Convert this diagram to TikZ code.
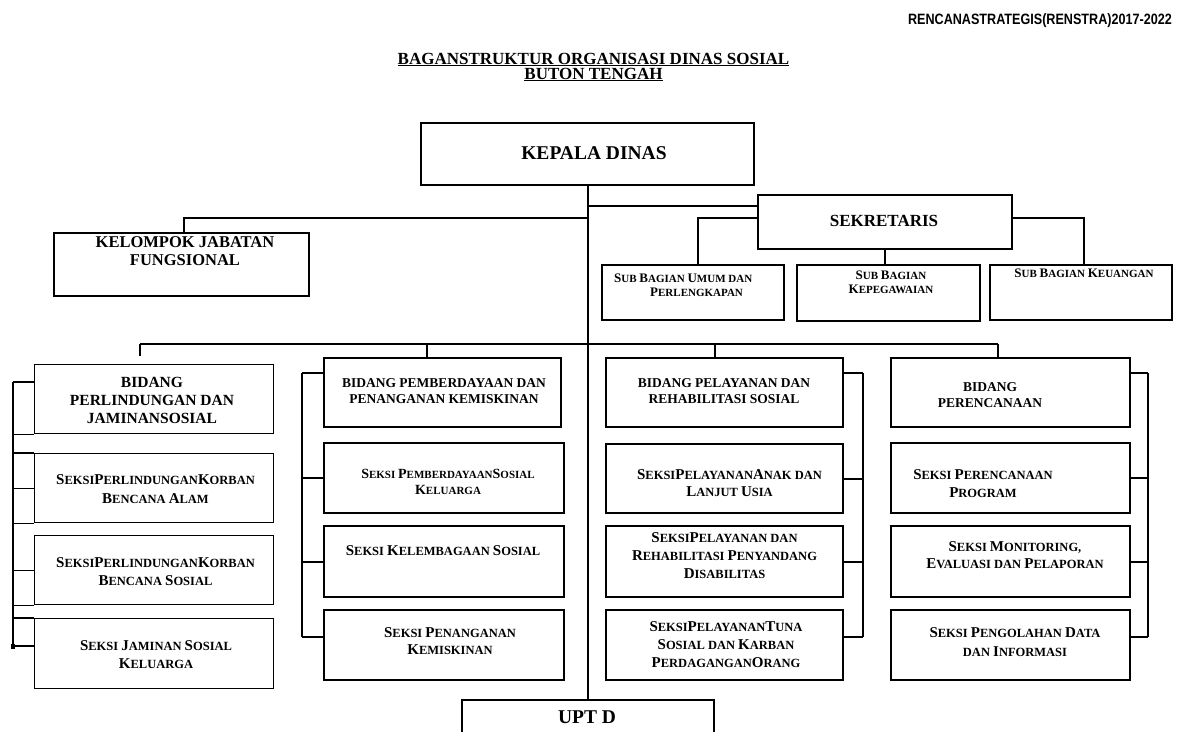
\documentclass[tikz,border=0pt]{standalone}
\usepackage{fontspec}
\setmainfont{Liberation Serif}
\newfontfamily\hdrfont{Liberation Sans}
\usetikzlibrary{calc}
\def\bigsz{15}
\newcommand\K[1]{{\fontsize{\bigsz}{\bigsz}\selectfont #1}}
\begin{document}
\begin{tikzpicture}[x=1pt,y=-1pt,
  box/.style={draw, line width=2pt, inner sep=0pt, anchor=north west},
  lbox/.style={box, line width=1.4pt},
  conn/.style={line width=2pt},
  lconn/.style={line width=1.4pt},
  txt/.style={inner sep=0pt, align=center},
  bid/.style={txt, font=\bfseries\fontsize{13.5}{16}\selectfont},
  sek/.style={txt, font=\bfseries\def\bigsz{15}\fontsize{12.5}{18}\selectfont},
  sub/.style={txt, font=\bfseries\def\bigsz{13}\fontsize{11}{14.5}\selectfont},
]
\fill[white] (0,0) rectangle (1180,731);
\useasboundingbox (0,0) rectangle (1180,731);

% header and title
\node[anchor=east, inner sep=0pt, font=\hdrfont\bfseries\fontsize{15}{15}\selectfont] (hdr) at (1172,21)
  {\scalebox{0.84}[1]{RENCANASTRATEGIS(RENSTRA)2017-2022}};
\node[anchor=base, inner sep=0pt, font=\bfseries\fontsize{17}{17}\selectfont] (title1) at (593.5,64)
  {\underline{BAGANSTRUKTUR ORGANISASI DINAS SOSIAL}};
\node[anchor=base, inner sep=0pt, font=\bfseries\fontsize{17}{17}\selectfont] (title2) at (593.5,79)
  {\underline{BUTON TENGAH}};

% top level boxes
\node[box, line width=2.2pt, minimum width=333pt, minimum height=62pt] (kepala) at (420,122) {};
\node[txt, font=\bfseries\fontsize{19.5}{22}\selectfont] (t-kepala) at (594,153) {KEPALA DINAS};

\node[box, minimum width=254pt, minimum height=54pt] (sekretaris) at (757,194) {};
\node[txt, font=\bfseries\fontsize{17}{20}\selectfont] (t-sekretaris) at (884,221) {SEKRETARIS};

\node[box, minimum width=255pt, minimum height=63pt] (kelompok) at (53,232) {};
\node[txt, font=\bfseries\fontsize{16.5}{18.5}\selectfont] (t-kelompok) at (185,251) {KELOMPOK JABATAN\\FUNGSIONAL};

\node[box, minimum width=182pt, minimum height=55pt] (umum) at (601,264) {};
\node[sub, anchor=west, align=left] (t-umum) at (614,285) {\K{S}UB \K{B}AGIAN \K{U}MUM DAN\\\hspace*{36pt}\K{P}ERLENGKAPAN};

\node[box, minimum width=183pt, minimum height=56pt] (kepeg) at (796,264) {};
\node[sub] (t-kepeg) at (891,282.5) {\K{S}UB \K{B}AGIAN\\\K{K}EPEGAWAIAN};

\node[box, minimum width=182pt, minimum height=55pt] (keuangan) at (989,264) {};
\node[sub] (t-keuangan) at (1084,273) {\K{S}UB \K{B}AGIAN \K{K}EUANGAN};

% column 1
\node[lbox, minimum width=239pt, minimum height=69pt] (b1) at (34,364) {};
\node[txt, font=\bfseries\fontsize{15.5}{18}\selectfont] (t-b1) at (152,400) {BIDANG\\PERLINDUNGAN DAN\\JAMINANSOSIAL};
\node[lbox, minimum width=239pt, minimum height=69pt] (s1) at (34,453) {};
\node[sek, font=\bfseries\def\bigsz{15}\fontsize{12.5}{19}\selectfont] (t-s1) at (155.5,489.5) {\K{S}EKSI\K{P}ERLINDUNGAN\K{K}ORBAN\\\K{B}ENCANA \K{A}LAM};
\node[lbox, minimum width=239pt, minimum height=69pt] (s2) at (34,535) {};
\node[sek] (t-s2) at (155.5,572) {\K{S}EKSI\K{P}ERLINDUNGAN\K{K}ORBAN\\\K{B}ENCANA \K{S}OSIAL};
\node[lbox, minimum width=239pt, minimum height=70pt] (s3) at (34,618) {};
\node[sek] (t-s3) at (156,655) {\K{S}EKSI \K{J}AMINAN \K{S}OSIAL\\\K{K}ELUARGA};

% column 2
\node[box, minimum width=237pt, minimum height=69pt] (b2) at (323,357) {};
\node[bid] (t-b2) at (444,391) {BIDANG PEMBERDAYAAN DAN\\PENANGANAN KEMISKINAN};
\node[box, minimum width=240pt, minimum height=70pt] (s4) at (323,442) {};
\node[sek, font=\bfseries\def\bigsz{14}\fontsize{11}{16}\selectfont] (t-s4) at (448,482) {\K{S}EKSI \K{P}EMBERDAYAAN\K{S}OSIAL\\\K{K}ELUARGA};
\node[box, minimum width=240pt, minimum height=71pt] (s5) at (323,525) {};
\node[sek] (t-s5) at (443,551) {\K{S}EKSI \K{K}ELEMBAGAAN \K{S}OSIAL};
\node[box, minimum width=240pt, minimum height=70pt] (s6) at (323,609) {};
\node[sek, font=\bfseries\def\bigsz{15}\fontsize{12.5}{17}\selectfont] (t-s6) at (450,641.5) {\K{S}EKSI \K{P}ENANGANAN\\\K{K}EMISKINAN};

% column 3
\node[box, minimum width=237pt, minimum height=69pt] (b3) at (605,357) {};
\node[bid] (t-b3) at (724,391) {BIDANG PELAYANAN DAN\\REHABILITASI SOSIAL};
\node[box, minimum width=237pt, minimum height=69pt] (s7) at (605,443) {};
\node[sek, font=\bfseries\def\bigsz{15}\fontsize{12.5}{17}\selectfont] (t-s7) at (729.5,483.5) {\K{S}EKSI\K{P}ELAYANAN\K{A}NAK DAN\\\K{L}ANJUT \K{U}SIA};
\node[box, minimum width=237pt, minimum height=71pt] (s8) at (605,525) {};
\node[sek] (t-s8) at (724.5,556) {\K{S}EKSI\K{P}ELAYANAN DAN\\\K{R}EHABILITASI \K{P}ENYANDANG\\\K{D}ISABILITAS};
\node[box, minimum width=237pt, minimum height=70pt] (s9) at (605,609) {};
\node[sek] (t-s9) at (726,645) {\K{S}EKSI\K{P}ELAYANAN\K{T}UNA\\\K{S}OSIAL DAN \K{K}ARBAN\\\K{P}ERDAGANGAN\K{O}RANG};

% column 4
\node[box, minimum width=239pt, minimum height=69pt] (b4) at (890,357) {};
\node[bid] (t-b4) at (990,395) {BIDANG\\PERENCANAAN};
\node[box, minimum width=239pt, minimum height=70pt] (s10) at (890,442) {};
\node[sek] (t-s10) at (983,484) {\K{S}EKSI \K{P}ERENCANAAN\\\K{P}ROGRAM};
\node[box, minimum width=239pt, minimum height=71pt] (s11) at (890,525) {};
\node[sek, font=\bfseries\def\bigsz{15}\fontsize{12.5}{17}\selectfont] (t-s11) at (1015,555.5) {\K{S}EKSI \K{M}ONITORING,\\\K{E}VALUASI DAN \K{P}ELAPORAN};
\node[box, minimum width=239pt, minimum height=70pt] (s12) at (890,609) {};
\node[sek, font=\bfseries\def\bigsz{15}\fontsize{12.5}{19}\selectfont] (t-s12) at (1015,642.5) {\K{S}EKSI \K{P}ENGOLAHAN \K{D}ATA\\DAN \K{I}NFORMASI};

% UPT
\node[box, minimum width=252pt, minimum height=45pt] (upt) at (461,699) {};
\node[anchor=base, inner sep=0pt, font=\bfseries\fontsize{19.5}{22}\selectfont] (t-upt) at (587,723) {UPT D};

% trunk
\coordinate (trk) at (588,185);
\draw[conn] (kepala.south -| trk) -- (upt.north -| trk);

% sekretaris and kelompok
\coordinate (sekA) at (757,206);
\draw[conn] (trk |- sekA) -- (sekretaris.west |- sekA);
\coordinate (kj) at (184,218);
\draw[conn] (trk |- kj) -- (kj) -- (kj |- kelompok.north);

% sub bagian
\coordinate (sL) at (698,218);
\coordinate (sR) at (1084,218);
\draw[conn] (sekretaris.west |- sL) -- (sL) -- (sL |- umum.north);
\draw[conn] (sekretaris.east |- sR) -- (sR) -- (sR |- keuangan.north);
\draw[conn] (sekretaris.south) -- (sekretaris.south |- kepeg.north);

% bidang bus
\coordinate (bus1) at (140,344);
\coordinate (bus2) at (427,344);
\coordinate (bus3) at (715,344);
\coordinate (bus4) at (998,344);
\coordinate (d1) at (140,356);
\draw[conn] (bus1) -- (bus4);
\draw[conn] (bus1) -- (d1);
\draw[conn] (bus2) -- (bus2 |- b2.north);
\draw[conn] (bus3) -- (bus3 |- b3.north);
\draw[conn] (bus4) -- (bus4 |- b4.north);

% column 1 connector
\coordinate (c1t) at (13,382);
\coordinate (c1b) at (13,646);
\draw[lconn] (c1t) -- (c1b);
\draw[lconn] (c1t) -- (c1t -| b1.west);
\draw[lconn] (c1t |- s1.west) -- (s1.west);
\draw[lconn] (c1t |- s2.west) -- (s2.west);
\draw[lconn] (c1b) -- (c1b -| s3.west);
\fill ($(c1b)+(-2.5,-2.5)$) rectangle ($(c1b)+(2,2.5)$);
\draw[lconn] (b1.south west) -- (b1.south west -| c1t);
\draw[lconn] (s1.north west) -- (s1.north west -| c1t);
\draw[lconn] (s1.south west) -- (s1.south west -| c1t);
\draw[lconn] (s2.south west) -- (s2.south west -| c1t);
\draw[lconn] (s3.north west) -- (s3.north west -| c1t);

% column 2 connector
\coordinate (c2t) at (302,373);
\coordinate (c2b) at (302,637);
\draw[conn] (c2t) -- (c2b);
\draw[conn] (c2t) -- (c2t -| b2.west);
\draw[conn] (c2t |- s4.west) -- (s4.west);
\draw[conn] (c2t |- s5.west) -- (s5.west);
\draw[conn] (c2b) -- (c2b -| s6.west);

% column 3 connector
\coordinate (c3t) at (863,373);
\coordinate (c3b) at (863,637);
\draw[conn] (c3t) -- (c3b);
\draw[conn] (c3t) -- (c3t -| b3.east);
\draw[conn] (c3t |- s7.east) -- (s7.east);
\draw[conn] (c3t |- s8.east) -- (s8.east);
\draw[conn] (c3b) -- (c3b -| s9.east);

% column 4 connector
\coordinate (c4t) at (1148,373);
\coordinate (c4b) at (1148,637);
\draw[conn] (c4t) -- (c4b);
\draw[conn] (c4t) -- (c4t -| b4.east);
\draw[conn] (c4t |- s10.east) -- (s10.east);
\draw[conn] (c4t |- s11.east) -- (s11.east);
\draw[conn] (c4b) -- (c4b -| s12.east);
\end{tikzpicture}
\end{document}
